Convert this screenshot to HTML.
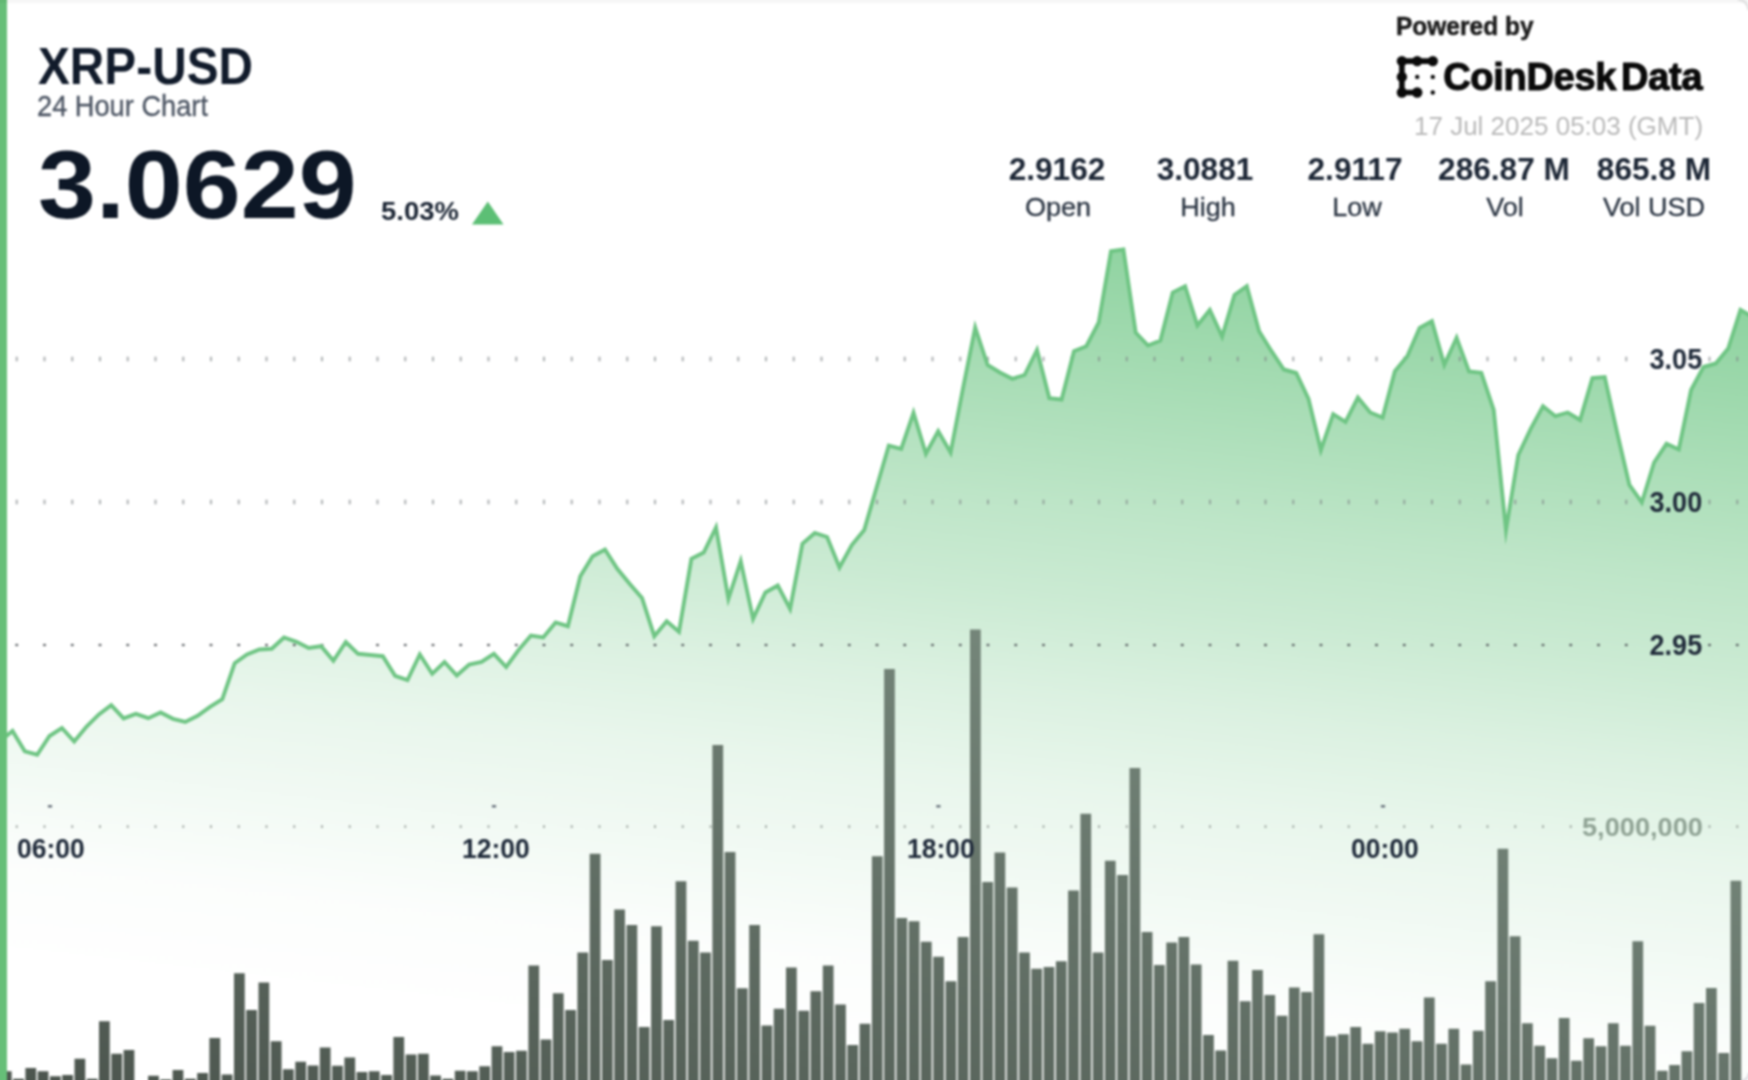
<!DOCTYPE html>
<html><head><meta charset="utf-8"><title>XRP-USD 24 Hour Chart</title>
<style>
html,body{margin:0;padding:0;background:#fff;}
body{width:1748px;height:1080px;overflow:hidden;position:relative;font-family:"Liberation Sans",sans-serif;}
#wrap{position:absolute;left:-24px;top:-24px;width:1796px;height:1128px;overflow:hidden;background:#fff;filter:blur(1.0px);}
#in{position:absolute;left:24px;top:24px;width:1748px;height:1080px;}
.t{position:absolute;white-space:nowrap;line-height:1;transform-origin:0 0;}
.b{font-weight:bold;}
svg{position:absolute;left:0;top:0;overflow:visible;}
.col{position:absolute;width:200px;text-align:center;white-space:nowrap;line-height:1;transform-origin:50% 0;}
</style></head><body><div id="wrap"><div id="in">
<svg width="1748" height="1080" viewBox="0 0 1748 1080">
<defs>
<linearGradient id="ag" gradientUnits="userSpaceOnUse" x1="-21.49" y1="953.73" x2="91.32" y2="-33.37"><stop offset="0.0000" stop-color="#5cbf75" stop-opacity="0.000"/><stop offset="0.0952" stop-color="#5cbf75" stop-opacity="0.020"/><stop offset="0.1905" stop-color="#5cbf75" stop-opacity="0.080"/><stop offset="0.2857" stop-color="#5cbf75" stop-opacity="0.135"/><stop offset="0.3810" stop-color="#5cbf75" stop-opacity="0.215"/><stop offset="0.4762" stop-color="#5cbf75" stop-opacity="0.315"/><stop offset="0.5714" stop-color="#5cbf75" stop-opacity="0.400"/><stop offset="0.6667" stop-color="#5cbf75" stop-opacity="0.500"/><stop offset="0.7619" stop-color="#5cbf75" stop-opacity="0.600"/><stop offset="1.0000" stop-color="#5cbf75" stop-opacity="0.850"/></linearGradient>
<linearGradient id="bg" gradientUnits="userSpaceOnUse" x1="0.00" y1="1080.00" x2="218.20" y2="234.30"><stop offset="0.000" stop-color="#4c554e" stop-opacity="1.000"/><stop offset="0.250" stop-color="#59655c" stop-opacity="1.000"/><stop offset="0.500" stop-color="#66746a" stop-opacity="1.000"/><stop offset="0.750" stop-color="#738478" stop-opacity="1.000"/><stop offset="1.000" stop-color="#809486" stop-opacity="1.000"/></linearGradient>
</defs>
<path d="M-12.2,745.0 L0.1,741.0 L12.5,731.0 L24.8,751.3 L37.2,754.7 L49.5,736.0 L61.9,728.0 L74.2,741.6 L86.6,726.5 L98.9,714.4 L111.2,705.2 L123.6,718.4 L135.9,713.8 L148.3,718.2 L160.6,712.5 L173.0,718.8 L185.3,722.0 L197.6,715.8 L210.0,706.8 L222.3,699.2 L234.7,663.2 L247.0,654.5 L259.4,649.5 L271.7,648.8 L284.0,637.5 L296.4,641.8 L308.7,648.0 L321.1,646.2 L333.4,660.8 L345.8,642.0 L358.1,653.8 L370.4,655.0 L382.8,656.2 L395.1,675.8 L407.5,680.0 L419.8,654.5 L432.2,673.8 L444.5,662.0 L456.8,675.5 L469.2,664.5 L481.5,662.0 L493.9,653.8 L506.2,667.0 L518.6,650.0 L530.9,635.5 L543.2,637.5 L555.6,622.5 L567.9,626.2 L580.3,576.2 L592.6,556.2 L605.0,549.5 L617.3,568.8 L629.6,583.8 L642.0,598.0 L654.3,636.2 L666.7,621.2 L679.0,631.8 L691.4,558.8 L703.7,552.5 L716.0,527.5 L728.4,598.8 L740.7,561.2 L753.1,618.8 L765.4,592.5 L777.8,585.5 L790.1,608.8 L802.4,543.8 L814.8,533.0 L827.1,537.0 L839.5,567.5 L851.8,545.0 L864.2,530.0 L876.5,487.8 L888.8,445.5 L901.2,448.8 L913.5,412.8 L925.9,453.8 L938.2,431.2 L950.6,452.5 L962.9,388.8 L975.2,327.5 L987.6,365.0 L999.9,372.5 L1012.3,378.8 L1024.6,375.0 L1037.0,350.0 L1049.3,398.1 L1061.6,399.5 L1074.0,351.2 L1086.3,346.2 L1098.7,322.5 L1111.0,251.2 L1123.4,249.5 L1135.7,332.5 L1148.0,345.5 L1160.4,340.5 L1172.7,292.5 L1185.1,286.2 L1197.4,325.5 L1209.8,310.0 L1222.1,336.5 L1234.5,295.0 L1246.8,286.2 L1259.1,331.2 L1271.5,351.2 L1283.8,369.5 L1296.2,373.0 L1308.5,398.8 L1320.9,450.0 L1333.2,414.2 L1345.5,422.0 L1357.9,397.5 L1370.2,412.5 L1382.6,417.5 L1394.9,371.2 L1407.3,356.2 L1419.6,328.0 L1431.9,321.2 L1444.3,364.8 L1456.6,337.8 L1469.0,371.5 L1481.3,372.8 L1493.7,410.0 L1506.0,530.0 L1518.3,455.0 L1530.7,428.8 L1543.0,406.2 L1555.4,416.2 L1567.7,412.5 L1580.1,420.0 L1592.4,378.0 L1604.7,377.0 L1617.1,432.5 L1629.4,485.0 L1641.8,502.5 L1654.1,462.5 L1666.5,443.8 L1678.8,449.5 L1691.1,390.0 L1703.5,367.0 L1715.8,363.5 L1728.2,348.5 L1740.5,310.0 L1752.9,317.0 L1752.9,1110 L-12.2,1110 Z" fill="url(#ag)"/>
<g fill="#7d8285" opacity="0.6"><rect x="15.70" y="356.70" width="2.1" height="4.6"/><rect x="43.45" y="356.70" width="2.1" height="4.6"/><rect x="71.20" y="356.70" width="2.1" height="4.6"/><rect x="98.95" y="356.70" width="2.1" height="4.6"/><rect x="126.70" y="356.70" width="2.1" height="4.6"/><rect x="154.45" y="356.70" width="2.1" height="4.6"/><rect x="182.20" y="356.70" width="2.1" height="4.6"/><rect x="209.95" y="356.70" width="2.1" height="4.6"/><rect x="237.70" y="356.70" width="2.1" height="4.6"/><rect x="265.45" y="356.70" width="2.1" height="4.6"/><rect x="293.20" y="356.70" width="2.1" height="4.6"/><rect x="320.95" y="356.70" width="2.1" height="4.6"/><rect x="348.70" y="356.70" width="2.1" height="4.6"/><rect x="376.45" y="356.70" width="2.1" height="4.6"/><rect x="404.20" y="356.70" width="2.1" height="4.6"/><rect x="431.95" y="356.70" width="2.1" height="4.6"/><rect x="459.70" y="356.70" width="2.1" height="4.6"/><rect x="487.45" y="356.70" width="2.1" height="4.6"/><rect x="515.20" y="356.70" width="2.1" height="4.6"/><rect x="542.95" y="356.70" width="2.1" height="4.6"/><rect x="570.70" y="356.70" width="2.1" height="4.6"/><rect x="598.45" y="356.70" width="2.1" height="4.6"/><rect x="626.20" y="356.70" width="2.1" height="4.6"/><rect x="653.95" y="356.70" width="2.1" height="4.6"/><rect x="681.70" y="356.70" width="2.1" height="4.6"/><rect x="709.45" y="356.70" width="2.1" height="4.6"/><rect x="737.20" y="356.70" width="2.1" height="4.6"/><rect x="764.95" y="356.70" width="2.1" height="4.6"/><rect x="792.70" y="356.70" width="2.1" height="4.6"/><rect x="820.45" y="356.70" width="2.1" height="4.6"/><rect x="848.20" y="356.70" width="2.1" height="4.6"/><rect x="875.95" y="356.70" width="2.1" height="4.6"/><rect x="903.70" y="356.70" width="2.1" height="4.6"/><rect x="931.45" y="356.70" width="2.1" height="4.6"/><rect x="959.20" y="356.70" width="2.1" height="4.6"/><rect x="986.95" y="356.70" width="2.1" height="4.6"/><rect x="1014.70" y="356.70" width="2.1" height="4.6"/><rect x="1042.45" y="356.70" width="2.1" height="4.6"/><rect x="1070.20" y="356.70" width="2.1" height="4.6"/><rect x="1097.95" y="356.70" width="2.1" height="4.6"/><rect x="1125.70" y="356.70" width="2.1" height="4.6"/><rect x="1153.45" y="356.70" width="2.1" height="4.6"/><rect x="1181.20" y="356.70" width="2.1" height="4.6"/><rect x="1208.95" y="356.70" width="2.1" height="4.6"/><rect x="1236.70" y="356.70" width="2.1" height="4.6"/><rect x="1264.45" y="356.70" width="2.1" height="4.6"/><rect x="1292.20" y="356.70" width="2.1" height="4.6"/><rect x="1319.95" y="356.70" width="2.1" height="4.6"/><rect x="1347.70" y="356.70" width="2.1" height="4.6"/><rect x="1375.45" y="356.70" width="2.1" height="4.6"/><rect x="1403.20" y="356.70" width="2.1" height="4.6"/><rect x="1430.95" y="356.70" width="2.1" height="4.6"/><rect x="1458.70" y="356.70" width="2.1" height="4.6"/><rect x="1486.45" y="356.70" width="2.1" height="4.6"/><rect x="1514.20" y="356.70" width="2.1" height="4.6"/><rect x="1541.95" y="356.70" width="2.1" height="4.6"/><rect x="1569.70" y="356.70" width="2.1" height="4.6"/><rect x="1597.45" y="356.70" width="2.1" height="4.6"/><rect x="1625.20" y="356.70" width="2.1" height="4.6"/><rect x="1708.45" y="356.70" width="2.1" height="4.6"/><rect x="1736.20" y="356.70" width="2.1" height="4.6"/></g><g fill="#7d8285" opacity="0.6"><rect x="15.70" y="499.70" width="2.1" height="4.6"/><rect x="43.45" y="499.70" width="2.1" height="4.6"/><rect x="71.20" y="499.70" width="2.1" height="4.6"/><rect x="98.95" y="499.70" width="2.1" height="4.6"/><rect x="126.70" y="499.70" width="2.1" height="4.6"/><rect x="154.45" y="499.70" width="2.1" height="4.6"/><rect x="182.20" y="499.70" width="2.1" height="4.6"/><rect x="209.95" y="499.70" width="2.1" height="4.6"/><rect x="237.70" y="499.70" width="2.1" height="4.6"/><rect x="265.45" y="499.70" width="2.1" height="4.6"/><rect x="293.20" y="499.70" width="2.1" height="4.6"/><rect x="320.95" y="499.70" width="2.1" height="4.6"/><rect x="348.70" y="499.70" width="2.1" height="4.6"/><rect x="376.45" y="499.70" width="2.1" height="4.6"/><rect x="404.20" y="499.70" width="2.1" height="4.6"/><rect x="431.95" y="499.70" width="2.1" height="4.6"/><rect x="459.70" y="499.70" width="2.1" height="4.6"/><rect x="487.45" y="499.70" width="2.1" height="4.6"/><rect x="515.20" y="499.70" width="2.1" height="4.6"/><rect x="542.95" y="499.70" width="2.1" height="4.6"/><rect x="570.70" y="499.70" width="2.1" height="4.6"/><rect x="598.45" y="499.70" width="2.1" height="4.6"/><rect x="626.20" y="499.70" width="2.1" height="4.6"/><rect x="653.95" y="499.70" width="2.1" height="4.6"/><rect x="681.70" y="499.70" width="2.1" height="4.6"/><rect x="709.45" y="499.70" width="2.1" height="4.6"/><rect x="737.20" y="499.70" width="2.1" height="4.6"/><rect x="764.95" y="499.70" width="2.1" height="4.6"/><rect x="792.70" y="499.70" width="2.1" height="4.6"/><rect x="820.45" y="499.70" width="2.1" height="4.6"/><rect x="848.20" y="499.70" width="2.1" height="4.6"/><rect x="875.95" y="499.70" width="2.1" height="4.6"/><rect x="903.70" y="499.70" width="2.1" height="4.6"/><rect x="931.45" y="499.70" width="2.1" height="4.6"/><rect x="959.20" y="499.70" width="2.1" height="4.6"/><rect x="986.95" y="499.70" width="2.1" height="4.6"/><rect x="1014.70" y="499.70" width="2.1" height="4.6"/><rect x="1042.45" y="499.70" width="2.1" height="4.6"/><rect x="1070.20" y="499.70" width="2.1" height="4.6"/><rect x="1097.95" y="499.70" width="2.1" height="4.6"/><rect x="1125.70" y="499.70" width="2.1" height="4.6"/><rect x="1153.45" y="499.70" width="2.1" height="4.6"/><rect x="1181.20" y="499.70" width="2.1" height="4.6"/><rect x="1208.95" y="499.70" width="2.1" height="4.6"/><rect x="1236.70" y="499.70" width="2.1" height="4.6"/><rect x="1264.45" y="499.70" width="2.1" height="4.6"/><rect x="1292.20" y="499.70" width="2.1" height="4.6"/><rect x="1319.95" y="499.70" width="2.1" height="4.6"/><rect x="1347.70" y="499.70" width="2.1" height="4.6"/><rect x="1375.45" y="499.70" width="2.1" height="4.6"/><rect x="1403.20" y="499.70" width="2.1" height="4.6"/><rect x="1430.95" y="499.70" width="2.1" height="4.6"/><rect x="1458.70" y="499.70" width="2.1" height="4.6"/><rect x="1486.45" y="499.70" width="2.1" height="4.6"/><rect x="1514.20" y="499.70" width="2.1" height="4.6"/><rect x="1541.95" y="499.70" width="2.1" height="4.6"/><rect x="1569.70" y="499.70" width="2.1" height="4.6"/><rect x="1597.45" y="499.70" width="2.1" height="4.6"/><rect x="1625.20" y="499.70" width="2.1" height="4.6"/><rect x="1708.45" y="499.70" width="2.1" height="4.6"/><rect x="1736.20" y="499.70" width="2.1" height="4.6"/></g><g fill="#4f5458" opacity="0.9"><rect x="15.40" y="643.90" width="2.7" height="2.2"/><rect x="43.15" y="643.90" width="2.7" height="2.2"/><rect x="70.90" y="643.90" width="2.7" height="2.2"/><rect x="98.65" y="643.90" width="2.7" height="2.2"/><rect x="126.40" y="643.90" width="2.7" height="2.2"/><rect x="154.15" y="643.90" width="2.7" height="2.2"/><rect x="181.90" y="643.90" width="2.7" height="2.2"/><rect x="209.65" y="643.90" width="2.7" height="2.2"/><rect x="237.40" y="643.90" width="2.7" height="2.2"/><rect x="265.15" y="643.90" width="2.7" height="2.2"/><rect x="292.90" y="643.90" width="2.7" height="2.2"/><rect x="320.65" y="643.90" width="2.7" height="2.2"/><rect x="348.40" y="643.90" width="2.7" height="2.2"/><rect x="376.15" y="643.90" width="2.7" height="2.2"/><rect x="403.90" y="643.90" width="2.7" height="2.2"/><rect x="431.65" y="643.90" width="2.7" height="2.2"/><rect x="459.40" y="643.90" width="2.7" height="2.2"/><rect x="487.15" y="643.90" width="2.7" height="2.2"/><rect x="514.90" y="643.90" width="2.7" height="2.2"/><rect x="542.65" y="643.90" width="2.7" height="2.2"/><rect x="570.40" y="643.90" width="2.7" height="2.2"/><rect x="598.15" y="643.90" width="2.7" height="2.2"/><rect x="625.90" y="643.90" width="2.7" height="2.2"/><rect x="653.65" y="643.90" width="2.7" height="2.2"/><rect x="681.40" y="643.90" width="2.7" height="2.2"/><rect x="709.15" y="643.90" width="2.7" height="2.2"/><rect x="736.90" y="643.90" width="2.7" height="2.2"/><rect x="764.65" y="643.90" width="2.7" height="2.2"/><rect x="792.40" y="643.90" width="2.7" height="2.2"/><rect x="820.15" y="643.90" width="2.7" height="2.2"/><rect x="847.90" y="643.90" width="2.7" height="2.2"/><rect x="875.65" y="643.90" width="2.7" height="2.2"/><rect x="903.40" y="643.90" width="2.7" height="2.2"/><rect x="931.15" y="643.90" width="2.7" height="2.2"/><rect x="958.90" y="643.90" width="2.7" height="2.2"/><rect x="986.65" y="643.90" width="2.7" height="2.2"/><rect x="1014.40" y="643.90" width="2.7" height="2.2"/><rect x="1042.15" y="643.90" width="2.7" height="2.2"/><rect x="1069.90" y="643.90" width="2.7" height="2.2"/><rect x="1097.65" y="643.90" width="2.7" height="2.2"/><rect x="1125.40" y="643.90" width="2.7" height="2.2"/><rect x="1153.15" y="643.90" width="2.7" height="2.2"/><rect x="1180.90" y="643.90" width="2.7" height="2.2"/><rect x="1208.65" y="643.90" width="2.7" height="2.2"/><rect x="1236.40" y="643.90" width="2.7" height="2.2"/><rect x="1264.15" y="643.90" width="2.7" height="2.2"/><rect x="1291.90" y="643.90" width="2.7" height="2.2"/><rect x="1319.65" y="643.90" width="2.7" height="2.2"/><rect x="1347.40" y="643.90" width="2.7" height="2.2"/><rect x="1375.15" y="643.90" width="2.7" height="2.2"/><rect x="1402.90" y="643.90" width="2.7" height="2.2"/><rect x="1430.65" y="643.90" width="2.7" height="2.2"/><rect x="1458.40" y="643.90" width="2.7" height="2.2"/><rect x="1486.15" y="643.90" width="2.7" height="2.2"/><rect x="1513.90" y="643.90" width="2.7" height="2.2"/><rect x="1541.65" y="643.90" width="2.7" height="2.2"/><rect x="1569.40" y="643.90" width="2.7" height="2.2"/><rect x="1597.15" y="643.90" width="2.7" height="2.2"/><rect x="1624.90" y="643.90" width="2.7" height="2.2"/><rect x="1708.15" y="643.90" width="2.7" height="2.2"/><rect x="1735.90" y="643.90" width="2.7" height="2.2"/></g><g fill="#7f8782" opacity="0.62"><rect x="15.75" y="825.20" width="2.0" height="2.8"/><rect x="43.50" y="825.20" width="2.0" height="2.8"/><rect x="71.25" y="825.20" width="2.0" height="2.8"/><rect x="99.00" y="825.20" width="2.0" height="2.8"/><rect x="126.75" y="825.20" width="2.0" height="2.8"/><rect x="154.50" y="825.20" width="2.0" height="2.8"/><rect x="182.25" y="825.20" width="2.0" height="2.8"/><rect x="210.00" y="825.20" width="2.0" height="2.8"/><rect x="237.75" y="825.20" width="2.0" height="2.8"/><rect x="265.50" y="825.20" width="2.0" height="2.8"/><rect x="293.25" y="825.20" width="2.0" height="2.8"/><rect x="321.00" y="825.20" width="2.0" height="2.8"/><rect x="348.75" y="825.20" width="2.0" height="2.8"/><rect x="376.50" y="825.20" width="2.0" height="2.8"/><rect x="404.25" y="825.20" width="2.0" height="2.8"/><rect x="432.00" y="825.20" width="2.0" height="2.8"/><rect x="459.75" y="825.20" width="2.0" height="2.8"/><rect x="487.50" y="825.20" width="2.0" height="2.8"/><rect x="515.25" y="825.20" width="2.0" height="2.8"/><rect x="543.00" y="825.20" width="2.0" height="2.8"/><rect x="570.75" y="825.20" width="2.0" height="2.8"/><rect x="598.50" y="825.20" width="2.0" height="2.8"/><rect x="626.25" y="825.20" width="2.0" height="2.8"/><rect x="654.00" y="825.20" width="2.0" height="2.8"/><rect x="681.75" y="825.20" width="2.0" height="2.8"/><rect x="709.50" y="825.20" width="2.0" height="2.8"/><rect x="737.25" y="825.20" width="2.0" height="2.8"/><rect x="765.00" y="825.20" width="2.0" height="2.8"/><rect x="792.75" y="825.20" width="2.0" height="2.8"/><rect x="820.50" y="825.20" width="2.0" height="2.8"/><rect x="848.25" y="825.20" width="2.0" height="2.8"/><rect x="876.00" y="825.20" width="2.0" height="2.8"/><rect x="903.75" y="825.20" width="2.0" height="2.8"/><rect x="931.50" y="825.20" width="2.0" height="2.8"/><rect x="959.25" y="825.20" width="2.0" height="2.8"/><rect x="987.00" y="825.20" width="2.0" height="2.8"/><rect x="1014.75" y="825.20" width="2.0" height="2.8"/><rect x="1042.50" y="825.20" width="2.0" height="2.8"/><rect x="1070.25" y="825.20" width="2.0" height="2.8"/><rect x="1098.00" y="825.20" width="2.0" height="2.8"/><rect x="1125.75" y="825.20" width="2.0" height="2.8"/><rect x="1153.50" y="825.20" width="2.0" height="2.8"/><rect x="1181.25" y="825.20" width="2.0" height="2.8"/><rect x="1209.00" y="825.20" width="2.0" height="2.8"/><rect x="1236.75" y="825.20" width="2.0" height="2.8"/><rect x="1264.50" y="825.20" width="2.0" height="2.8"/><rect x="1292.25" y="825.20" width="2.0" height="2.8"/><rect x="1320.00" y="825.20" width="2.0" height="2.8"/><rect x="1347.75" y="825.20" width="2.0" height="2.8"/><rect x="1375.50" y="825.20" width="2.0" height="2.8"/><rect x="1403.25" y="825.20" width="2.0" height="2.8"/><rect x="1431.00" y="825.20" width="2.0" height="2.8"/><rect x="1458.75" y="825.20" width="2.0" height="2.8"/><rect x="1486.50" y="825.20" width="2.0" height="2.8"/><rect x="1514.25" y="825.20" width="2.0" height="2.8"/><rect x="1542.00" y="825.20" width="2.0" height="2.8"/><rect x="1569.75" y="825.20" width="2.0" height="2.8"/><rect x="1708.50" y="825.20" width="2.0" height="2.8"/><rect x="1736.25" y="825.20" width="2.0" height="2.8"/></g>
<path d="M0.9,1071.2h10.75V1110h-10.75ZM13.2,1078.8h10.75V1110h-10.75ZM25.4,1068.0h10.75V1110h-10.75ZM37.7,1071.2h10.75V1110h-10.75ZM50.0,1076.2h10.75V1110h-10.75ZM62.2,1075.0h10.75V1110h-10.75ZM74.5,1058.8h10.75V1110h-10.75ZM86.8,1078.8h10.75V1110h-10.75ZM99.0,1021.2h10.75V1110h-10.75ZM111.3,1053.8h10.75V1110h-10.75ZM123.6,1050.0h10.75V1110h-10.75ZM148.1,1075.8h10.75V1110h-10.75ZM160.4,1079.5h10.75V1110h-10.75ZM172.6,1070.0h10.75V1110h-10.75ZM184.9,1078.8h10.75V1110h-10.75ZM197.2,1073.0h10.75V1110h-10.75ZM209.4,1038.0h10.75V1110h-10.75ZM221.7,1074.5h10.75V1110h-10.75ZM234.0,973.2h10.75V1110h-10.75ZM246.2,1010.0h10.75V1110h-10.75ZM258.5,982.5h10.75V1110h-10.75ZM270.8,1041.2h10.75V1110h-10.75ZM283.0,1069.2h10.75V1110h-10.75ZM295.3,1061.8h10.75V1110h-10.75ZM307.6,1065.5h10.75V1110h-10.75ZM319.8,1047.5h10.75V1110h-10.75ZM332.1,1065.8h10.75V1110h-10.75ZM344.4,1057.5h10.75V1110h-10.75ZM356.6,1072.0h10.75V1110h-10.75ZM368.9,1071.2h10.75V1110h-10.75ZM381.2,1075.0h10.75V1110h-10.75ZM393.4,1037.0h10.75V1110h-10.75ZM405.7,1054.5h10.75V1110h-10.75ZM418.0,1053.8h10.75V1110h-10.75ZM430.2,1075.5h10.75V1110h-10.75ZM442.5,1078.8h10.75V1110h-10.75ZM454.8,1070.8h10.75V1110h-10.75ZM467.0,1071.2h10.75V1110h-10.75ZM479.3,1066.2h10.75V1110h-10.75ZM491.6,1046.2h10.75V1110h-10.75ZM503.8,1052.0h10.75V1110h-10.75ZM516.1,1050.8h10.75V1110h-10.75ZM528.4,965.5h10.75V1110h-10.75ZM540.6,1039.5h10.75V1110h-10.75ZM552.9,993.2h10.75V1110h-10.75ZM565.2,1010.0h10.75V1110h-10.75ZM577.4,952.5h10.75V1110h-10.75ZM589.7,853.8h10.75V1110h-10.75ZM602.0,960.0h10.75V1110h-10.75ZM614.2,909.5h10.75V1110h-10.75ZM626.5,925.0h10.75V1110h-10.75ZM638.8,1027.0h10.75V1110h-10.75ZM651.1,926.2h10.75V1110h-10.75ZM663.3,1020.0h10.75V1110h-10.75ZM675.6,881.2h10.75V1110h-10.75ZM687.9,940.8h10.75V1110h-10.75ZM700.1,952.5h10.75V1110h-10.75ZM712.4,745.0h10.75V1110h-10.75ZM724.7,852.0h10.75V1110h-10.75ZM736.9,988.2h10.75V1110h-10.75ZM749.2,925.0h10.75V1110h-10.75ZM761.5,1025.5h10.75V1110h-10.75ZM773.7,1008.8h10.75V1110h-10.75ZM786.0,967.5h10.75V1110h-10.75ZM798.3,1010.8h10.75V1110h-10.75ZM810.5,991.2h10.75V1110h-10.75ZM822.8,965.5h10.75V1110h-10.75ZM835.1,1004.5h10.75V1110h-10.75ZM847.3,1045.0h10.75V1110h-10.75ZM859.6,1023.8h10.75V1110h-10.75ZM871.9,856.2h10.75V1110h-10.75ZM884.1,669.0h10.75V1110h-10.75ZM896.4,918.0h10.75V1110h-10.75ZM908.7,921.2h10.75V1110h-10.75ZM920.9,941.8h10.75V1110h-10.75ZM933.2,956.8h10.75V1110h-10.75ZM945.5,981.2h10.75V1110h-10.75ZM957.7,937.0h10.75V1110h-10.75ZM970.0,629.5h10.75V1110h-10.75ZM982.3,882.0h10.75V1110h-10.75ZM994.5,852.5h10.75V1110h-10.75ZM1006.8,887.5h10.75V1110h-10.75ZM1019.1,952.5h10.75V1110h-10.75ZM1031.3,968.8h10.75V1110h-10.75ZM1043.6,967.0h10.75V1110h-10.75ZM1055.9,961.2h10.75V1110h-10.75ZM1068.1,890.5h10.75V1110h-10.75ZM1080.4,813.8h10.75V1110h-10.75ZM1092.7,952.5h10.75V1110h-10.75ZM1104.9,860.8h10.75V1110h-10.75ZM1117.2,875.0h10.75V1110h-10.75ZM1129.5,768.0h10.75V1110h-10.75ZM1141.7,932.0h10.75V1110h-10.75ZM1154.0,965.0h10.75V1110h-10.75ZM1166.3,942.5h10.75V1110h-10.75ZM1178.5,937.0h10.75V1110h-10.75ZM1190.8,964.5h10.75V1110h-10.75ZM1203.1,1035.0h10.75V1110h-10.75ZM1215.3,1050.5h10.75V1110h-10.75ZM1227.6,960.8h10.75V1110h-10.75ZM1239.9,1001.2h10.75V1110h-10.75ZM1252.1,970.0h10.75V1110h-10.75ZM1264.4,995.0h10.75V1110h-10.75ZM1276.7,1015.8h10.75V1110h-10.75ZM1288.9,987.5h10.75V1110h-10.75ZM1301.2,992.0h10.75V1110h-10.75ZM1313.5,934.2h10.75V1110h-10.75ZM1325.7,1036.2h10.75V1110h-10.75ZM1338.0,1034.2h10.75V1110h-10.75ZM1350.3,1027.0h10.75V1110h-10.75ZM1362.5,1043.8h10.75V1110h-10.75ZM1374.8,1031.2h10.75V1110h-10.75ZM1387.1,1032.5h10.75V1110h-10.75ZM1399.3,1028.8h10.75V1110h-10.75ZM1411.6,1041.2h10.75V1110h-10.75ZM1423.9,997.5h10.75V1110h-10.75ZM1436.1,1043.8h10.75V1110h-10.75ZM1448.4,1028.8h10.75V1110h-10.75ZM1460.7,1064.5h10.75V1110h-10.75ZM1472.9,1030.8h10.75V1110h-10.75ZM1485.2,981.2h10.75V1110h-10.75ZM1497.5,848.8h10.75V1110h-10.75ZM1509.7,936.2h10.75V1110h-10.75ZM1522.0,1023.2h10.75V1110h-10.75ZM1534.3,1045.8h10.75V1110h-10.75ZM1546.5,1058.2h10.75V1110h-10.75ZM1558.8,1018.0h10.75V1110h-10.75ZM1571.1,1060.8h10.75V1110h-10.75ZM1583.3,1038.2h10.75V1110h-10.75ZM1595.6,1046.2h10.75V1110h-10.75ZM1607.9,1023.2h10.75V1110h-10.75ZM1620.1,1045.8h10.75V1110h-10.75ZM1632.4,941.2h10.75V1110h-10.75ZM1644.7,1025.8h10.75V1110h-10.75ZM1656.9,1070.8h10.75V1110h-10.75ZM1669.2,1065.0h10.75V1110h-10.75ZM1681.5,1051.2h10.75V1110h-10.75ZM1693.7,1003.0h10.75V1110h-10.75ZM1706.0,988.0h10.75V1110h-10.75ZM1718.3,1053.0h10.75V1110h-10.75ZM1730.5,880.8h10.75V1110h-10.75Z" fill="url(#bg)"/>
<path d="M-12.2,745.0 L0.1,741.0 L12.5,731.0 L24.8,751.3 L37.2,754.7 L49.5,736.0 L61.9,728.0 L74.2,741.6 L86.6,726.5 L98.9,714.4 L111.2,705.2 L123.6,718.4 L135.9,713.8 L148.3,718.2 L160.6,712.5 L173.0,718.8 L185.3,722.0 L197.6,715.8 L210.0,706.8 L222.3,699.2 L234.7,663.2 L247.0,654.5 L259.4,649.5 L271.7,648.8 L284.0,637.5 L296.4,641.8 L308.7,648.0 L321.1,646.2 L333.4,660.8 L345.8,642.0 L358.1,653.8 L370.4,655.0 L382.8,656.2 L395.1,675.8 L407.5,680.0 L419.8,654.5 L432.2,673.8 L444.5,662.0 L456.8,675.5 L469.2,664.5 L481.5,662.0 L493.9,653.8 L506.2,667.0 L518.6,650.0 L530.9,635.5 L543.2,637.5 L555.6,622.5 L567.9,626.2 L580.3,576.2 L592.6,556.2 L605.0,549.5 L617.3,568.8 L629.6,583.8 L642.0,598.0 L654.3,636.2 L666.7,621.2 L679.0,631.8 L691.4,558.8 L703.7,552.5 L716.0,527.5 L728.4,598.8 L740.7,561.2 L753.1,618.8 L765.4,592.5 L777.8,585.5 L790.1,608.8 L802.4,543.8 L814.8,533.0 L827.1,537.0 L839.5,567.5 L851.8,545.0 L864.2,530.0 L876.5,487.8 L888.8,445.5 L901.2,448.8 L913.5,412.8 L925.9,453.8 L938.2,431.2 L950.6,452.5 L962.9,388.8 L975.2,327.5 L987.6,365.0 L999.9,372.5 L1012.3,378.8 L1024.6,375.0 L1037.0,350.0 L1049.3,398.1 L1061.6,399.5 L1074.0,351.2 L1086.3,346.2 L1098.7,322.5 L1111.0,251.2 L1123.4,249.5 L1135.7,332.5 L1148.0,345.5 L1160.4,340.5 L1172.7,292.5 L1185.1,286.2 L1197.4,325.5 L1209.8,310.0 L1222.1,336.5 L1234.5,295.0 L1246.8,286.2 L1259.1,331.2 L1271.5,351.2 L1283.8,369.5 L1296.2,373.0 L1308.5,398.8 L1320.9,450.0 L1333.2,414.2 L1345.5,422.0 L1357.9,397.5 L1370.2,412.5 L1382.6,417.5 L1394.9,371.2 L1407.3,356.2 L1419.6,328.0 L1431.9,321.2 L1444.3,364.8 L1456.6,337.8 L1469.0,371.5 L1481.3,372.8 L1493.7,410.0 L1506.0,530.0 L1518.3,455.0 L1530.7,428.8 L1543.0,406.2 L1555.4,416.2 L1567.7,412.5 L1580.1,420.0 L1592.4,378.0 L1604.7,377.0 L1617.1,432.5 L1629.4,485.0 L1641.8,502.5 L1654.1,462.5 L1666.5,443.8 L1678.8,449.5 L1691.1,390.0 L1703.5,367.0 L1715.8,363.5 L1728.2,348.5 L1740.5,310.0 L1752.9,317.0" fill="none" stroke="#6fc584" stroke-width="3.9" stroke-linejoin="miter" stroke-miterlimit="10" stroke-linecap="butt"/>
<rect x="47.9" y="805.2" width="4.2" height="2.2" fill="#5b6470"/><rect x="491.9" y="805.2" width="4.2" height="2.2" fill="#5b6470"/><rect x="936.3" y="805.2" width="4.2" height="2.2" fill="#5b6470"/><rect x="1380.9" y="805.2" width="4.2" height="2.2" fill="#5b6470"/>
<rect x="-30" y="-30" width="37" height="1140" fill="#66bf78"/>
<rect x="-30" y="-30" width="1808" height="33" fill="#000" fill-opacity="0.036"/>
<g fill="#0a0a0a">
<path d="M1432.8,61.1 H1401.9 V92.5 H1417.2" fill="none" stroke="#0a0a0a" stroke-width="5.6" stroke-linejoin="round" stroke-linecap="round"/>
<circle cx="1401.9" cy="61.1" r="5.2"/><circle cx="1417.2" cy="61.1" r="5.2"/><circle cx="1432.8" cy="61.1" r="5.2"/>
<circle cx="1401.9" cy="76.9" r="5.2"/><circle cx="1401.9" cy="92.5" r="5.2"/><circle cx="1417.2" cy="92.5" r="5.2"/>
<circle cx="1417.2" cy="76.9" r="2.2"/><circle cx="1432.8" cy="76.9" r="2.2"/><circle cx="1432.8" cy="92.5" r="2.2"/>
</g>
<path d="M1738,-0.5 A10.5,10.5 0 0 1 1748.5,10" fill="none" stroke="#e0e0e0" stroke-width="2.4"/><path d="M1749,1073 A8,8 0 0 1 1741,1081" fill="none" stroke="#dcdce0" stroke-width="2.6"/>
<polygon points="487.8,201.5 503.5,224.5 472,224.5" fill="#5cbf75"/>
</svg>
<div class="t b" id="title" style="left:38px;top:41.1px;font-size:49px;color:#111b2b;transform:scale(0.975,1.04);">XRP-USD</div>
<div class="t" id="sub" style="left:37px;top:93.1px;font-size:27px;color:#4c5563;transform:scale(1.008,1.065);-webkit-text-stroke:0.3px #4c5563;">24 Hour Chart</div>
<div class="t b" id="price" style="left:38.4px;top:136.75px;font-size:96px;color:#0d1726;transform:scale(1.085,1.0);">3.0629</div>
<div class="t b" id="pct" style="left:380.8px;top:198.6px;font-size:25px;color:#1a2433;transform:scale(1.098,1.01);">5.03%</div>
<div class="t b" id="pow" style="left:1396px;top:14px;font-size:24.5px;color:#1c1c1c;transform:scale(1.0,1.045);-webkit-text-stroke:0.5px #1c1c1c;">Powered by</div>
<div class="t" id="date" style="left:1414px;top:113px;font-size:26px;color:#b9b9b9;">17 Jul 2025 05:03 (GMT)</div>
<div class="t b" id="y305" style="left:1649.6px;top:345.4px;font-size:27px;color:#212c3b;transform:scale(1.0,1.1);">3.05</div>
<div class="t b" id="y300" style="left:1649.6px;top:488.4px;font-size:27px;color:#212c3b;transform:scale(1.0,1.1);">3.00</div>
<div class="t b" id="y295" style="left:1649.6px;top:631.4px;font-size:27px;color:#212c3b;transform:scale(1.0,1.1);">2.95</div>
<div class="t b" id="v5m" style="left:1582px;top:814px;font-size:26px;color:#90a395;transform:scale(1.045,1);">5,000,000</div>
<div class="t b" id="x06" style="left:17.1px;top:835.2px;font-size:26px;color:#1e2939;transform:scale(1.02,1.04);">06:00</div>
<div class="t b" id="x12" style="left:462.1px;top:835.2px;font-size:26px;color:#1e2939;transform:scale(1.02,1.04);">12:00</div>
<div class="t b" id="x18" style="left:907.1px;top:835.2px;font-size:26px;color:#1e2939;transform:scale(1.02,1.04);">18:00</div>
<div class="t b" id="x00" style="left:1351.1px;top:835.2px;font-size:26px;color:#1e2939;transform:scale(1.02,1.04);">00:00</div>

<div class="t b" id="cd" style="left:1443.2px;top:58px;font-size:38px;color:#0a0a0a;letter-spacing:-0.3px;-webkit-text-stroke:1.1px #0a0a0a;">CoinDesk<span style="margin-left:5px">Data</span></div>
<div class="col b" id="v1" style="left:957.4px;top:154px;font-size:31px;color:#1d2736;transform:scale(1.02,1);">2.9162</div>
<div class="col" id="l1" style="left:958.2px;top:194px;font-size:26px;color:#2b3543;-webkit-text-stroke:0.3px #2b3543;transform:scale(1.04,1);">Open</div>
<div class="col b" id="v2" style="left:1105.0px;top:154px;font-size:31px;color:#1d2736;transform:scale(1.02,1);">3.0881</div>
<div class="col" id="l2" style="left:1108.2px;top:194px;font-size:26px;color:#2b3543;-webkit-text-stroke:0.3px #2b3543;transform:scale(1.04,1);">High</div>
<div class="col b" id="v3" style="left:1254.8px;top:154px;font-size:31px;color:#1d2736;transform:scale(1.02,1);">2.9117</div>
<div class="col" id="l3" style="left:1257.3px;top:194px;font-size:26px;color:#2b3543;-webkit-text-stroke:0.3px #2b3543;transform:scale(1.04,1);">Low</div>
<div class="col b" id="v4" style="left:1403.6px;top:154px;font-size:31px;color:#1d2736;transform:scale(1.02,1);">286.87 M</div>
<div class="col" id="l4" style="left:1405.0px;top:194px;font-size:26px;color:#2b3543;-webkit-text-stroke:0.3px #2b3543;transform:scale(1.04,1);">Vol</div>
<div class="col b" id="v5" style="left:1554.0px;top:154px;font-size:31px;color:#1d2736;transform:scale(1.02,1);">865.8 M</div>
<div class="col" id="l5" style="left:1554.0px;top:194px;font-size:26px;color:#2b3543;-webkit-text-stroke:0.3px #2b3543;transform:scale(1.04,1);">Vol USD</div>

</div></div></body></html>
